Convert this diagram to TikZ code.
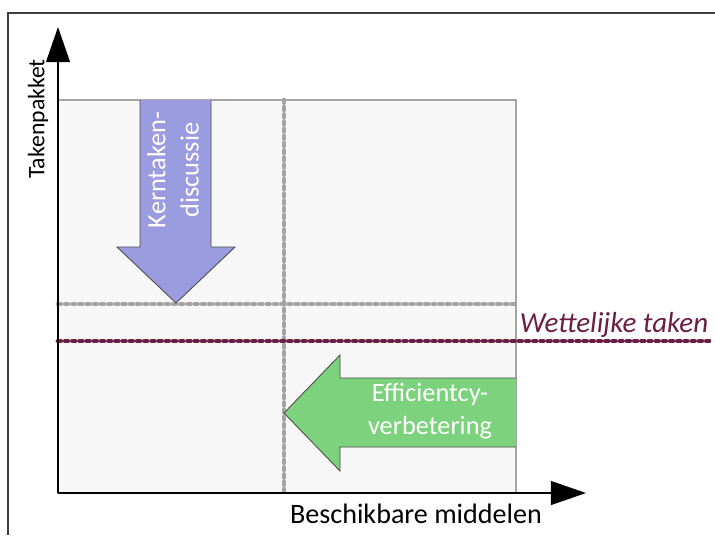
\documentclass[tikz,border=0pt]{standalone}
\usepackage{fontspec}
\setmainfont{Carlito}
\usepackage{xcolor}
\definecolor{vlakgrijs}{HTML}{F7F7F7}
\definecolor{randgrijs}{HTML}{A6A6A6}
\definecolor{stipgrijs}{HTML}{A3A3A3}
\definecolor{wetrood}{HTML}{6B1D44}
\definecolor{kernblauw}{HTML}{9B9BDF}
\definecolor{efgroen}{HTML}{7DD27D}
\usetikzlibrary{arrows.meta}

\tikzset{
  as/.style={line width=1.2pt, -{Triangle[length=20pt, width=13.5pt]}},
  stippel/.style={line width=2.7pt, line cap=round, dash pattern=on 1.5pt off 2.6pt},
  pijltekst/.style={text=white, align=center, font=\fontsize{15}{19}\selectfont},
  astekst/.style={font=\fontsize{16}{19}\selectfont}
}

\begin{document}
\begin{tikzpicture}[x=0.02cm, y=-0.02cm]
  \useasboundingbox (0,0) rectangle (715,535);
  % kader
  \draw[line width=1.2pt, black!75] (715,13) -- (8,13) -- (8,535);

  \coordinate (O) at (58,493);
  \coordinate (ytop) at (58,27);
  \coordinate (xend) at (586,493);

  % vlak
  \draw[fill=vlakgrijs, draw=randgrijs, line width=1pt] (58,100) rectangle (516,493);

  % hulplijnen
  \draw[stippel, stipgrijs] (284,100) -- (284,493);
  \draw[stippel, stipgrijs] (58,304) -- (516,304);
  \draw[stippel, wetrood] (58,341) -- (710,341);

  % pijlen
  \draw[fill=kernblauw, draw=black!70, line width=0.5pt]
    (140,100) -- (140,247) -- (117,247) -- (176,303) -- (235,247) -- (211,247) -- (211,100);
  \draw[fill=efgroen, draw=black!70, line width=0.5pt]
    (516,378) -- (340,378) -- (340,355) -- (284,413) -- (340,471) -- (340,447) -- (516,447);

  \node[pijltekst, rotate=90] (kern) at (173,170) {Kerntaken-\\discussie};
  \node[pijltekst] (eff) at (430,411) {Efficientcy-\\verbetering};

  % assen
  \draw[as] (O) -- (ytop);
  \draw[as] (O) -- (xend);

  \node[astekst, font=\fontsize{13.5}{17}\selectfont, rotate=90] (yl) at (38,119) {Takenpakket};
  \node[astekst] (xl) at (416,514) {Beschikbare middelen};
  \node[font=\fontsize{16.5}{19}\selectfont\itshape, text=wetrood] (wet) at (614,325) {Wettelijke taken};
\end{tikzpicture}
\end{document}
